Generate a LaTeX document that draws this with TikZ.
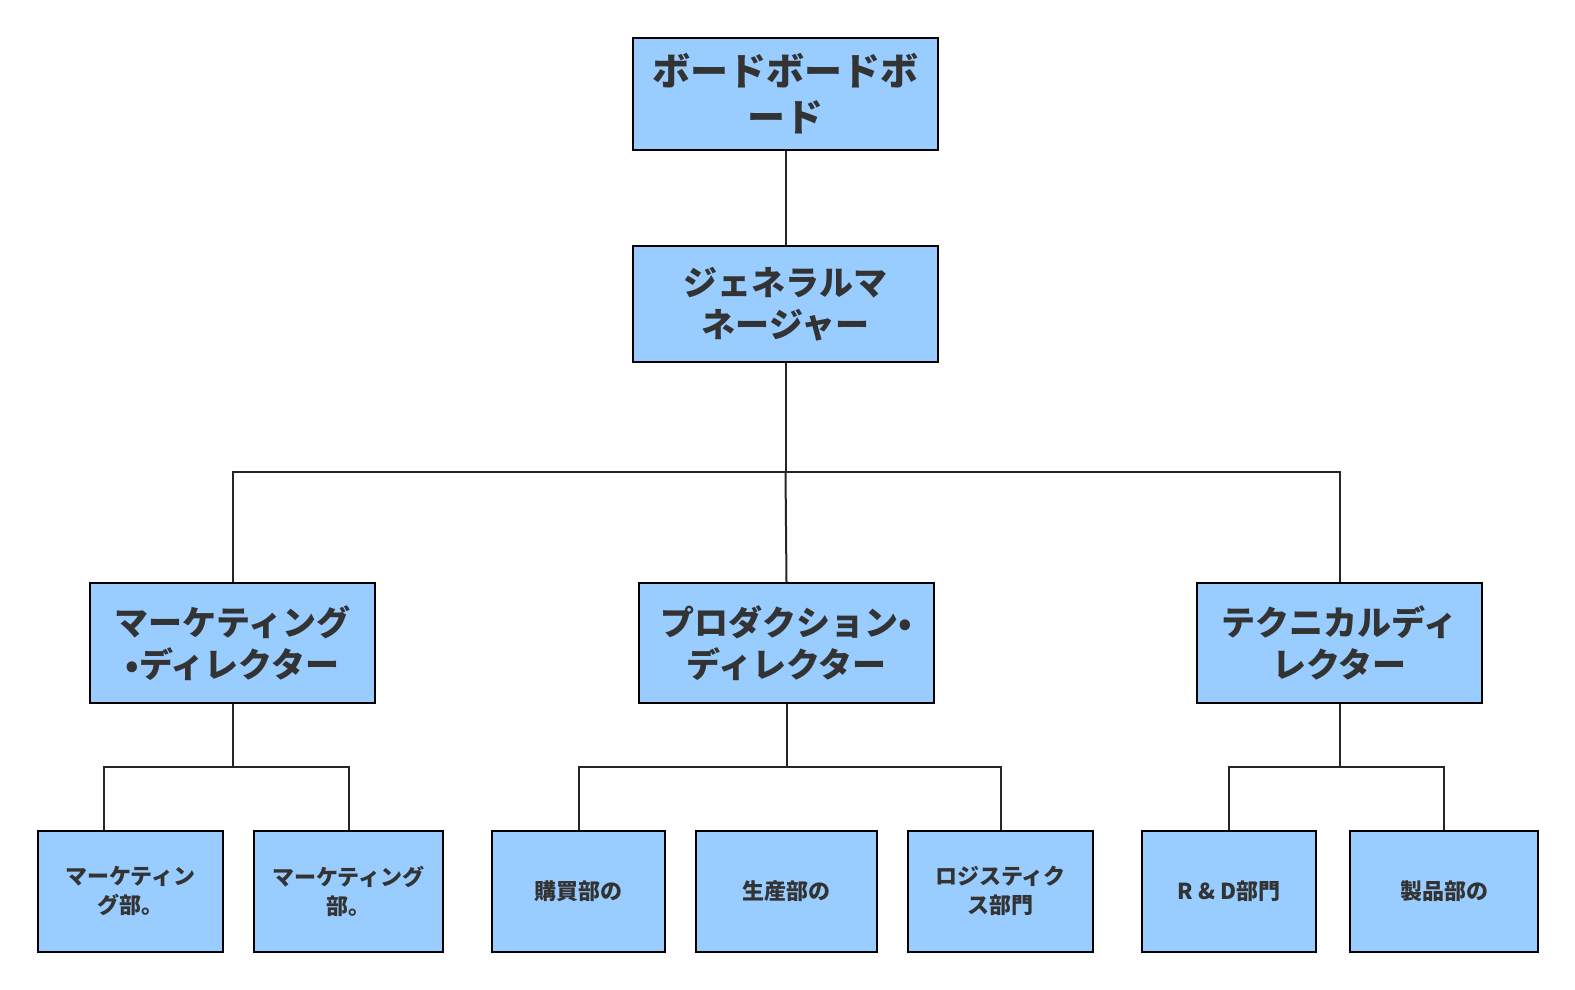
\documentclass[tikz,border=0pt]{standalone}
\usepackage{fontspec}
\setmainfont{Noto Sans CJK JP}
\definecolor{boxblue}{HTML}{99CCFF}
\definecolor{inkgray}{HTML}{333333}
\begin{document}
\begin{tikzpicture}[x=1pt, y=-1pt,
    box/.style={draw=black, line width=2pt, fill=boxblue, text=inkgray, align=center, inner sep=0pt},
    big/.style={box, font=\fontsize{38}{46}\selectfont\bfseries},
    mid/.style={box, font=\fontsize{34}{42}\selectfont\bfseries, minimum height=120pt},
    small/.style={box, font=\fontsize{22}{29}\selectfont\bfseries, minimum height=121pt},
    wire/.style={draw=black!85, line width=2pt}]
  \useasboundingbox (0,0) rectangle (1575,990);
  \fill[white] (0,0) rectangle (1575,990);
  % Board and GM
  \node[big, minimum width=305pt, minimum height=112pt] (board) at (785.5,94) {ボードボードボ\\ード};
  \node[big, font=\fontsize{34}{42}\selectfont\bfseries, minimum width=305pt, minimum height=116pt] (gm) at (785.5,304) {ジェネラルマ\\ネージャー};
  % Directors
  \node[mid, minimum width=285pt] (mkt) at (232.5,643) {マーケティング\\•ディレクター};
  \node[mid, minimum width=295pt] (prod) at (786.5,643) {プロダクション•\\ディレクター};
  \node[mid, minimum width=285pt] (tech) at (1339.5,643) {テクニカルディ\\レクター};
  % Departments
  \node[small, minimum width=185pt] (mkt1) at (130.5,891) {マーケティン\\グ部。};
  \node[small, minimum width=189pt] (mkt2) at (348.5,891) {マーケティング\\部。};
  \node[small, minimum width=173pt] (buy) at (578.5,891) {購買部の};
  \node[small, minimum width=181pt] (make) at (786.5,891) {生産部の};
  \node[small, minimum width=185pt] (logi) at (1000.5,891) {ロジスティク\\ス部門};
  \node[small, minimum width=174pt] (rnd) at (1229,891) {R \& D部門};
  \node[small, minimum width=188pt] (goods) at (1444,891) {製品部の};
  % Buses
  \coordinate (gbus) at (785.5,472);
  \coordinate (mbus) at (232.5,767);
  \coordinate (pbus) at (786.5,767);
  \coordinate (tbus) at (1339.5,767);
  \draw[wire] (board) -- (gm);
  \draw[wire] (gm.south) -- (gbus) -| (mkt.north);
  \draw[wire] (gbus) -| (tech.north);
  \draw[wire] (gbus) -- (prod.north);
  \draw[wire] (mkt.south) -- (mbus);
  \draw[wire] (mbus) -| ([xshift=-27pt]mkt1.north);
  \draw[wire] (mbus) -| (mkt2.north);
  \draw[wire] (prod.south) -- (pbus);
  \draw[wire] (pbus) -| (buy.north);
  \draw[wire] (pbus) -| (logi.north);
  \draw[wire] (tech.south) -- (tbus);
  \draw[wire] (tbus) -| (rnd.north);
  \draw[wire] (tbus) -| (goods.north);
\end{tikzpicture}
\end{document}
